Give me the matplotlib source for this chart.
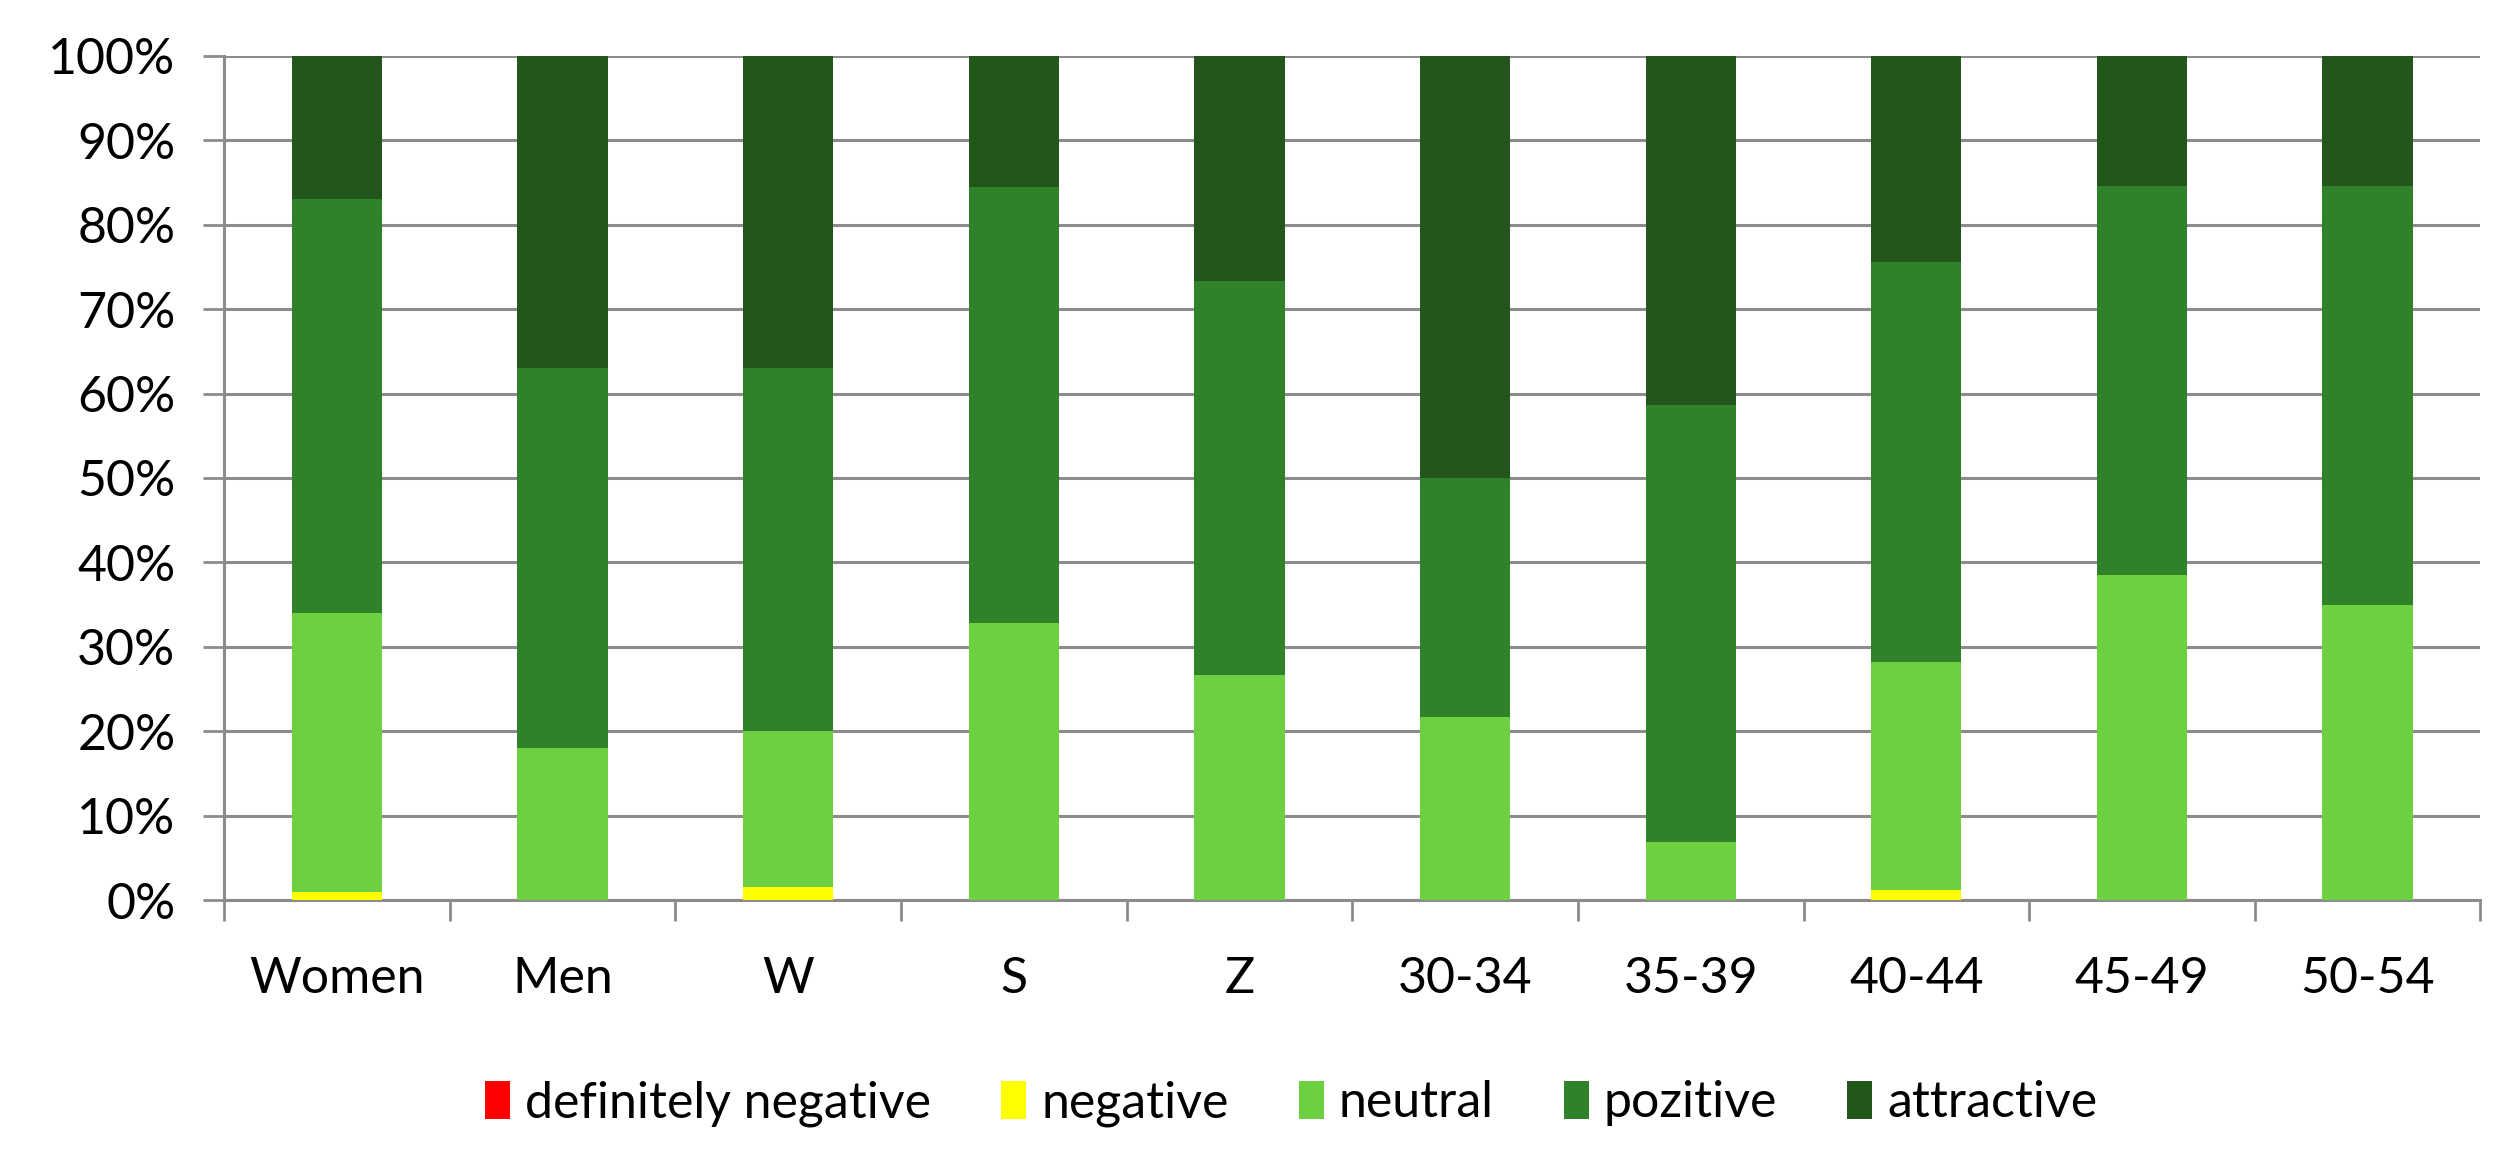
import matplotlib
matplotlib.use("Agg")
import matplotlib.pyplot as plt
import numpy as np
from matplotlib.ticker import FuncFormatter, MultipleLocator, FixedLocator

categories = ["Women", "Men", "W", "S", "Z", "30-34", "35-39", "40-44", "45-49", "50-54"]
definitely_negative = [0, 0, 0, 0, 0, 0, 0, 0, 0, 0]
negative = [1.0, 0, 1.5, 0, 0, 0, 0, 1.2, 0, 0]
neutral = [33.0, 18.0, 18.5, 32.8, 26.7, 21.7, 6.9, 27.0, 38.5, 35.0]
pozitive = [49.0, 45.0, 43.0, 51.7, 46.6, 28.3, 51.7, 47.4, 46.1, 49.6]
attractive = [17.0, 37.0, 37.0, 15.5, 26.7, 50.0, 41.4, 24.4, 15.4, 15.4]

series = [
    ("definitely negative", definitely_negative, "#FF0000"),
    ("negative", negative, "#FFFF00"),
    ("neutral", neutral, "#6CD040"),
    ("pozitive", pozitive, "#2F8229"),
    ("attractive", attractive, "#22561A"),
]

plt.rcParams['font.family'] = ['Lato', 'DejaVu Sans']

fig = plt.figure(figsize=(25.07, 11.63), dpi=100)
ax = fig.add_axes([0.0894, 0.226, 0.9, 0.726])

x = np.arange(len(categories))
vals = [np.array(v, dtype=float) for _, v, _ in series]
totals = np.sum(vals, axis=0)
bottom = np.zeros(len(categories))
handles = []
for (name, v, c), arr in zip(series, vals):
    pct = arr / totals * 100
    h = ax.bar(x, pct, width=0.4, bottom=bottom, color=c, label=name, zorder=3)
    handles.append(h)
    bottom += pct

ax.set_xlim(-0.5, len(categories) - 0.5)
ax.set_ylim(0, 100)
ax.yaxis.set_major_locator(MultipleLocator(10))
ax.yaxis.set_major_formatter(FuncFormatter(lambda v, p: f"{int(round(v))}%"))
ax.grid(axis='y', color='#8C8C8C', linewidth=2.2, zorder=0)
ax.set_axisbelow(True)

ax.set_xticks(x)
ax.set_xticklabels(categories)
ax.xaxis.set_minor_locator(FixedLocator(np.arange(-0.5, len(categories), 1.0)))
ax.tick_params(axis='x', which='major', length=0, pad=40, labelsize=36)
ax.tick_params(axis='x', which='minor', length=15, width=2, color='#8C8C8C', direction='out')
ax.tick_params(axis='y', length=15, width=2, color='#8C8C8C', pad=20, labelsize=36)

for s in ['top', 'right']:
    ax.spines[s].set_visible(False)
for s in ['left', 'bottom']:
    ax.spines[s].set_color('#8C8C8C')
    ax.spines[s].set_linewidth(2.2)

fig.legend(handles=handles, labels=[s[0] for s in series], loc='center',
           bbox_to_anchor=(0.515, 0.051), ncol=5, frameon=False, fontsize=36,
           handlelength=0.5, handleheight=0.8, handletextpad=0.3, columnspacing=1.4)

fig.savefig("out.png", dpi=100, facecolor='white')
